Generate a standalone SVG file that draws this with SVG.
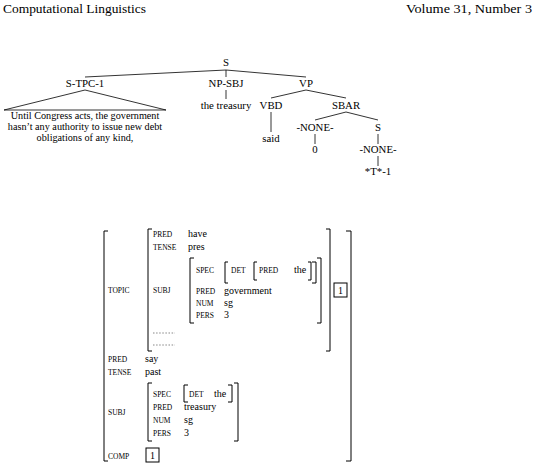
<svg xmlns="http://www.w3.org/2000/svg" width="536" height="466" viewBox="0 0 536 466">
<style>
text{font-family:"Liberation Serif","DejaVu Serif",serif;fill:#000}
.h{font-size:12.5px}
.t{font-size:10.8px;text-anchor:middle}
.s{font-size:10.2px;text-anchor:middle}
.f{font-size:7.5px}
.v{font-size:10px}
.e{stroke:#000;stroke-width:0.8;fill:none}
.b{stroke:#000;stroke-width:1;fill:none}
.d{stroke:#555;stroke-width:0.7;stroke-dasharray:1.5 1.6;fill:none}
</style>
<rect width="536" height="466" fill="#fff"/>
<g id="header">
<text class="h" x="3" y="13" textLength="143" lengthAdjust="spacingAndGlyphs">Computational Linguistics</text>
<text class="h" x="532" y="13" text-anchor="end" textLength="126" lengthAdjust="spacingAndGlyphs">Volume 31, Number 3</text>
</g>
<g id="edges">
<line class="e" x1="226" y1="70" x2="85" y2="77"/>
<line class="e" x1="226" y1="70" x2="226" y2="77"/>
<line class="e" x1="226" y1="70" x2="306" y2="77"/>
<polygon class="e" points="85,90 4,110 166,110"/>
<line class="e" x1="226" y1="90" x2="226" y2="99"/>
<line class="e" x1="306" y1="90" x2="271" y2="98"/>
<line class="e" x1="306" y1="90" x2="346" y2="98"/>
<line class="e" x1="271" y1="112" x2="271" y2="132"/>
<line class="e" x1="346" y1="112" x2="315" y2="120"/>
<line class="e" x1="346" y1="112" x2="378" y2="120"/>
<line class="e" x1="315" y1="134" x2="315" y2="144"/>
<line class="e" x1="378" y1="134" x2="378" y2="144"/>
<line class="e" x1="378" y1="156" x2="378" y2="166"/>
</g>
<g id="n_S"><text class="t" x="226" y="66">S</text></g>
<g id="n_STPC"><text class="t" x="85" y="87">S-TPC-1</text></g>
<g id="n_NPSBJ"><text class="t" x="226" y="87">NP-SBJ</text></g>
<g id="n_VP"><text class="t" x="306" y="87">VP</text></g>
<g id="n_topic_text">
<text class="s" x="85" y="119">Until Congress acts, the government</text>
<text class="s" x="85" y="130">hasn’t any authority to issue new debt</text>
<text class="s" x="85" y="141">obligations of any kind,</text>
</g>
<g id="n_treasury"><text class="t" x="226" y="109">the treasury</text></g>
<g id="n_VBD"><text class="t" x="271" y="109">VBD</text></g>
<g id="n_SBAR"><text class="t" x="346" y="109">SBAR</text></g>
<g id="n_said"><text class="t" x="271" y="142">said</text></g>
<g id="n_NONE1"><text class="t" x="315" y="131">-NONE-</text></g>
<g id="n_S2"><text class="t" x="378" y="131">S</text></g>
<g id="n_zero"><text class="t" x="315" y="153">0</text></g>
<g id="n_NONE2"><text class="t" x="378" y="153">-NONE-</text></g>
<g id="n_T1"><text class="t" x="378" y="175">*T*-1</text></g>

<g id="avm">
<path class="b" d="M108,231 H104 V461 H108"/>
<path class="b" d="M346,231 H351 V461 H346"/>
<text class="f" x="108" y="293">TOPIC</text>
<path class="b" d="M152,229 H148 V351 H152"/>
<path class="b" d="M326,229 H330 V351 H326"/>
<rect class="b" x="334" y="283" width="13" height="14"/>
<text class="v" x="340.5" y="294" text-anchor="middle">1</text>
<text class="f" x="153" y="237">PRED</text><text class="v" x="188" y="237">have</text>
<text class="f" x="153" y="250">TENSE</text><text class="v" x="188" y="250">pres</text>
<text class="f" x="153" y="293">SUBJ</text>
<path class="b" d="M194,258 H190 V323 H194"/>
<path class="b" d="M317,258 H321 V323 H317"/>
<text class="f" x="196" y="273">SPEC</text>
<path class="b" d="M228,262 H225 V283 H228"/>
<path class="b" d="M312,262 H316 V283 H312"/>
<text class="f" x="231" y="273">DET</text>
<path class="b" d="M257,262 H254 V280 H257"/>
<path class="b" d="M308,262 H311 V280 H308"/>
<text class="f" x="259" y="273">PRED</text><text class="v" x="294" y="273">the</text>
<text class="f" x="196" y="294">PRED</text><text class="v" x="224" y="294">government</text>
<text class="f" x="196" y="306">NUM</text><text class="v" x="224" y="306">sg</text>
<text class="f" x="196" y="318">PERS</text><text class="v" x="224" y="318">3</text>
<line class="d" x1="153" y1="333" x2="175" y2="333"/>
<line class="d" x1="153" y1="345" x2="175" y2="345"/>
<text class="f" x="108" y="362">PRED</text><text class="v" x="145" y="362">say</text>
<text class="f" x="108" y="375">TENSE</text><text class="v" x="145" y="375">past</text>
<text class="f" x="108" y="415">SUBJ</text>
<path class="b" d="M152,383 H148 V441 H152"/>
<path class="b" d="M234,383 H238 V441 H234"/>
<text class="f" x="153" y="397">SPEC</text>
<path class="b" d="M188,385 H184 V402 H188"/>
<path class="b" d="M228,385 H232 V402 H228"/>
<text class="f" x="189" y="397">DET</text><text class="v" x="214" y="397">the</text>
<text class="f" x="153" y="410">PRED</text><text class="v" x="184" y="410">treasury</text>
<text class="f" x="153" y="423">NUM</text><text class="v" x="184" y="423">sg</text>
<text class="f" x="153" y="436">PERS</text><text class="v" x="184" y="436">3</text>
<text class="f" x="108" y="459">COMP</text>
<rect class="b" x="146" y="448" width="13" height="14"/>
<text class="v" x="152.5" y="459" text-anchor="middle">1</text>
</g>
</svg>
